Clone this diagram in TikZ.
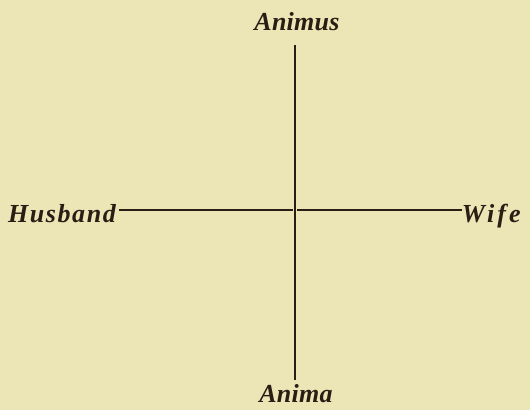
\documentclass[tikz,border=0pt]{standalone}
\usepackage{fontspec}
\setmainfont{Liberation Serif}
\definecolor{paper}{RGB}{236,229,182}
\definecolor{ink}{RGB}{40,30,20}
\begin{document}
\begin{tikzpicture}[x=1pt,y=-1pt,
  lbl/.style={inner sep=0pt,text=ink,font=\fontsize{26}{28}\selectfont\addfontfeatures{LetterSpace=6}\itshape\bfseries},
  wlbl/.style={inner sep=0pt,text=ink,font=\fontsize{26}{28}\selectfont\addfontfeatures{LetterSpace=12}\itshape\bfseries},
  vlbl/.style={inner sep=0pt,text=ink,font=\fontsize{26}{28}\selectfont\addfontfeatures{LetterSpace=1}\itshape\bfseries},
  axis/.style={draw=ink,line width=1.8pt}]
\fill[paper] (0,0) rectangle (530,410);
\useasboundingbox (0,0) rectangle (530,410);
\node[vlbl,anchor=base] (animus) at (297,30) {Animus};
\node[vlbl,anchor=base] (anima) at (296,402) {Anima};
\node[lbl,anchor=west] (husband) at (8,217) {\strut Husband};
\node[wlbl,anchor=east] (wife) at (521,217) {\strut Wife};
\coordinate (top) at (295,45);
\coordinate (bot) at (295,380);
\coordinate (hl) at (119,210);
\coordinate (cl) at (293,210);
\coordinate (cr) at (297,210);
\coordinate (wr) at (wife.west |- cr);
\draw[axis] (top) -- (bot);
\draw[axis] (hl) -- (cl);
\draw[axis] (cr) -- (wr);
\end{tikzpicture}
\end{document}
